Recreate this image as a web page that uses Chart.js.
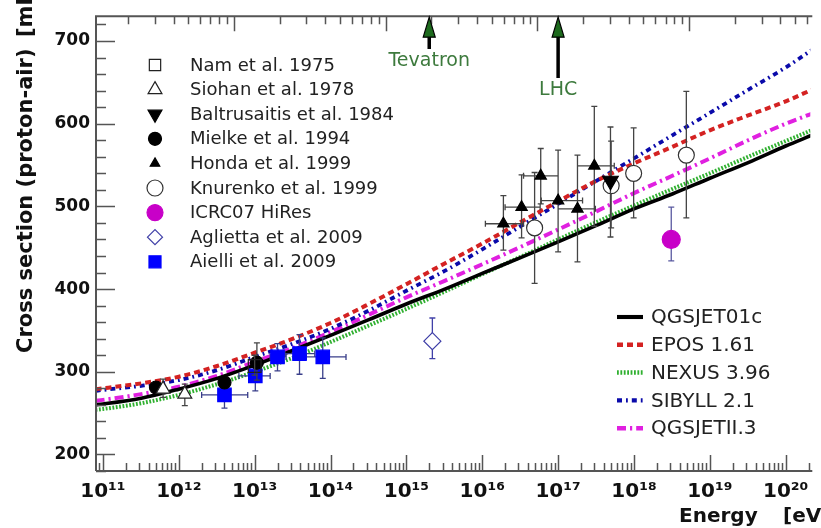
<!DOCTYPE html>
<html>
<head>
<meta charset="utf-8">
<script src="https://cdn.jsdelivr.net/npm/chart.js@4/dist/chart.umd.min.js"></script>
<style>
  html, body { margin: 0; padding: 0; background: #fff; }
  #wrap { width: 821px; height: 528px; }
</style>
</head>
<body>
<div id="wrap"><canvas id="xsec" width="821" height="528"></canvas></div>
<script>
// Model predictions: energy in eV, cross section in mb
const modelEnergy = [8e10, 1e11, 3.2e11, 1e12, 3.2e12, 1e13, 3.2e13, 1e14, 3.2e14, 1e15, 3.2e15,
                     1e16, 3.2e16, 1e17, 3.2e17, 1e18, 3.2e18, 1e19, 3.2e19, 1e20, 2.2e20];
const qgsjet01c = [260, 261, 268, 279, 292, 308, 326, 344, 363, 382, 400, 419, 438, 457, 477, 497, 515, 534, 553, 573, 586];
const epos161   = [279, 280, 286, 294, 307, 323, 340, 359, 382, 406, 431, 455, 481, 506, 531, 552, 572, 592, 610, 627, 641];
const nexus396  = [254, 255, 262, 272, 285, 300, 317, 336, 356, 376, 397, 418, 439, 460, 481, 501, 521, 540, 560, 579, 592];
const sibyll21  = [277, 278, 283, 290, 302, 318, 334, 352, 374, 398, 422, 448, 476, 503, 531, 558, 586, 613, 641, 668, 689];
const qgsjetII3 = [265, 266, 273, 282, 295, 312, 329, 348, 369, 390, 410, 430, 451, 472, 494, 516, 537, 558, 580, 600, 612];
const modelNames = ['QGSJET01c', 'EPOS 1.61', 'NEXUS 3.96', 'SIBYLL 2.1', 'QGSJETII.3'];

// Measurements: [energy, sigma, sigma low, sigma high, energy low, energy high]
const nam1975 = [[1.0e13, 307, 296, 320, null, null]];
const siohan1978 = [[6.2e11, 279, 269, 291, null, null], [1.2e12, 273, 259, 285, null, null]];
const baltrusaitis1984 = [[4.9e17, 531, 463, 596, null, null]];
const mielke1994 = [[5.0e11, 281, 275, 287, null, null], [4.0e12, 287, 281, 293, null, null], [1.07e13, 311, 290, 335, null, null]];
const honda1999 = [
  [1.9e16, 479, 447, 513, 1.1e16, 3.5e16],
  [3.3e16, 499, 462, 538, 2.0e16, 5.8e16],
  [5.9e16, 537, 503, 570, 3.5e16, 1.0e17],
  [1.0e17, 507, 445, 568, 6.0e16, 2.1e17],
  [1.8e17, 497, 433, 562, 1.0e17, 3.1e17],
  [3.0e17, 549, 476, 621, 1.8e17, 5.5e17]
];
const knurenko1999 = [[4.9e16, 474, 407, 541, null, null], [5.0e17, 525, 474, 579, null, null],
                      [9.9e17, 540, 486, 595, null, null], [4.9e18, 562, 486, 639, null, null]];
const hires2007 = [[3.1e18, 460, 434, 499, null, null]];
const aglietta2009 = [[2.2e15, 337, 316, 365, null, null]];
const aielli2009 = [
  [4.0e12, 272, 256, 288, 2.0e12, 8.1e12],
  [1.02e13, 295, 277, 316, 6.2e12, 1.6e13],
  [2.0e13, 318, 301, 334, 1.6e13, 2.6e13],
  [3.9e13, 322, 297, 345, 2.5e13, 6.2e13],
  [7.9e13, 318, 292, 341, 4.8e13, 1.6e14]
];
const expNames = ['Nam et al. 1975', 'Siohan et al. 1978', 'Baltrusaitis et al. 1984', 'Mielke et al. 1994',
                  'Honda et al. 1999', 'Knurenko et al. 1999', 'ICRC07 HiRes', 'Aglietta et al. 2009', 'Aielli et al. 2009'];

// Axes
const xTicks = [1e11, 1e12, 1e13, 1e14, 1e15, 1e16, 1e17, 1e18, 1e19, 1e20];
const xTickLabels = ['10¹¹', '10¹²', '10¹³', '10¹⁴', '10¹⁵', '10¹⁶', '10¹⁷', '10¹⁸', '10¹⁹', '10²⁰'];
const yTicks = [200, 300, 400, 500, 600, 700];
const xMin = 8.1e10, xMax = 2.11e20, yMin = 180, yMax = 730;

// Accelerator equivalent energies
const accelNames = ['Tevatron', 'LHC'];
const accelEnergy = [2e15, 1e17];

const FONT = "'DejaVu Sans', sans-serif";
const PROTON_MASS = 0.938; // GeV, top axis is sqrt(s)

function points(rows) {
  return rows.map(r => ({ x: r[0], y: r[1], yLo: r[2], yHi: r[3], xLo: r[4], xHi: r[5] }));
}
function curve(vals) {
  return modelEnergy.map((e, i) => ({ x: e, y: vals[i] }));
}

function expSet(label, rows, style) {
  return Object.assign({
    label: label,
    data: points(rows),
    showLine: false,
    pointBorderWidth: 1.2,
    pointHoverRadius: 0,
    errColor: '#444',
    isExp: true
  }, style);
}
function modelSet(label, vals, color, dash, width) {
  return {
    label: label,
    data: curve(vals),
    showLine: true,
    borderColor: color,
    borderWidth: width,
    borderDash: dash,
    pointRadius: 0,
    pointHoverRadius: 0,
    cubicInterpolationMode: 'monotone',
    isModel: true
  };
}

const datasets = [
  expSet(expNames[0], nam1975, { pointStyle: 'rect', pointRadius: 9, pointBackgroundColor: 'rgba(0,0,0,0)', pointBorderColor: '#222' }),
  expSet(expNames[1], siohan1978, { pointStyle: 'triangle', pointRadius: 8, pointBackgroundColor: '#fff', pointBorderColor: '#222' }),
  expSet(expNames[2], baltrusaitis1984, { pointStyle: 'triangle', pointRotation: 180, pointRadius: 9, pointBackgroundColor: '#000', pointBorderColor: '#000' }),
  expSet(expNames[3], mielke1994, { pointStyle: 'circle', pointRadius: 6.5, pointBackgroundColor: '#000', pointBorderColor: '#000' }),
  expSet(expNames[4], honda1999, { pointStyle: 'triangle', pointRadius: 6.5, pointBackgroundColor: '#000', pointBorderColor: '#000' }),
  expSet(expNames[5], knurenko1999, { pointStyle: 'circle', pointRadius: 8, pointBackgroundColor: '#fff', pointBorderColor: '#333' }),
  expSet(expNames[6], hires2007, { pointStyle: 'circle', pointRadius: 9, pointBackgroundColor: '#c800c8', pointBorderColor: '#c800c8', errColor: '#5a5aa0' }),
  expSet(expNames[7], aglietta2009, { pointStyle: 'rectRot', pointRadius: 8.5, pointBackgroundColor: '#fff', pointBorderColor: '#4040a8', errColor: '#4040a8' }),
  expSet(expNames[8], aielli2009, { pointStyle: 'rect', pointRadius: 9.5, pointBackgroundColor: '#0000ff', pointBorderColor: '#0000ff', errColor: '#3a3f8a' }),
  modelSet(modelNames[0], qgsjet01c, '#000000', [], 3.6),
  modelSet(modelNames[1], epos161, '#d42222', [6, 4], 4),
  modelSet(modelNames[2], nexus396, '#30b030', [1.8, 1.6], 4),
  modelSet(modelNames[3], sibyll21, '#0a0aaa', [5, 4, 1.8, 4], 3.8),
  modelSet(modelNames[4], qgsjetII3, '#e020e0', [9, 4, 2.2, 4], 4)
];

// error bars drawn under each marker set
const errorBars = {
  id: 'errorBars',
  beforeDatasetDraw(chart, args) {
    const ds = chart.data.datasets[args.index];
    if (!ds.isExp) return;
    const { ctx, scales: { x, y } } = chart;
    const cap = 3;
    ctx.save();
    ctx.strokeStyle = ds.errColor;
    ctx.lineWidth = 1.3;
    ctx.beginPath();
    ds.data.forEach(p => {
      const px = x.getPixelForValue(p.x), py = y.getPixelForValue(p.y);
      if (p.yLo != null) {
        const lo = y.getPixelForValue(p.yLo), hi = y.getPixelForValue(p.yHi);
        ctx.moveTo(px, lo); ctx.lineTo(px, hi);
        ctx.moveTo(px - cap, lo); ctx.lineTo(px + cap, lo);
        ctx.moveTo(px - cap, hi); ctx.lineTo(px + cap, hi);
      }
      if (p.xLo != null) {
        const l = x.getPixelForValue(p.xLo), r = x.getPixelForValue(p.xHi);
        ctx.moveTo(l, py); ctx.lineTo(r, py);
        ctx.moveTo(l, py - cap); ctx.lineTo(l, py + cap);
        ctx.moveTo(r, py - cap); ctx.lineTo(r, py + cap);
      }
    });
    ctx.stroke();
    ctx.restore();
  }
};

// frame with inside tick marks, ROOT style
const frame = {
  id: 'frame',
  afterDatasetsDraw(chart) {
    const { ctx, chartArea: a, scales: { x, x2, y } } = chart;
    ctx.save();
    ctx.strokeStyle = '#555';
    ctx.lineWidth = 2;
    ctx.beginPath();
    ctx.moveTo(a.left, a.bottom); ctx.lineTo(a.left, a.top); ctx.lineTo(a.right + 2, a.top);
    ctx.moveTo(a.left, a.bottom); ctx.lineTo(a.right + 2, a.bottom);
    ctx.stroke();
    ctx.lineWidth = 1.5;
    ctx.beginPath();
    for (let v = yMin; v <= yMax; v += 20) {
      const py = Math.round(y.getPixelForValue(v)) + 0.5;
      const len = v % 100 === 0 ? 19 : 10;
      ctx.moveTo(a.left, py); ctx.lineTo(a.left + len, py);
    }
    for (let e = 10; e <= 20; e++) {
      for (let m = 1; m <= 9; m++) {
        const v = m * Math.pow(10, e);
        if (v < xMin || v > xMax) continue;
        const px = Math.round(x.getPixelForValue(v)) + 0.5;
        ctx.moveTo(px, a.bottom); ctx.lineTo(px, a.bottom - (m === 1 ? 16 : 8));
      }
    }
    for (let e = 1; e <= 6; e++) {
      for (let m = 1; m <= 9; m++) {
        const v = m * Math.pow(10, e);
        if (v < x2.min || v > x2.max) continue;
        const px = Math.round(x2.getPixelForValue(v)) + 0.5;
        ctx.moveTo(px, a.top); ctx.lineTo(px, a.top + (m === 1 ? 15 : 8));
      }
    }
    ctx.stroke();
    ctx.restore();
  }
};

// titles, legends and accelerator arrows
const labels = {
  id: 'labels',
  afterDraw(chart) {
    const { ctx, chartArea: a, scales: { x } } = chart;
    ctx.save();

    // axis titles
    ctx.fillStyle = '#111';
    ctx.font = 'bold 21px ' + FONT;
    ctx.textBaseline = 'alphabetic';
    ctx.save();
    ctx.translate(32, 353);
    ctx.rotate(-Math.PI / 2);
    ctx.textAlign = 'left';
    ctx.fillText('Cross section (proton-air)', 0, 0);
    ctx.restore();
    ctx.save();
    ctx.translate(32, 37);
    ctx.rotate(-Math.PI / 2);
    ctx.textAlign = 'left';
    ctx.fillText('[mb]', 0, 0);
    ctx.restore();
    ctx.font = 'bold 20px ' + FONT;
    ctx.textAlign = 'left';
    ctx.fillText('Energy', 679, 522);
    ctx.fillText('[eV]', 783, 522);

    // experiment legend
    const drawPoint = Chart.helpers.drawPoint;
    ctx.font = '18px ' + FONT;
    ctx.textBaseline = 'middle';
    chart.data.datasets.filter(d => d.isExp).forEach((d, i) => {
      const cy = 65 + i * 24.6;
      ctx.fillStyle = d.pointBackgroundColor;
      ctx.strokeStyle = d.pointBorderColor;
      ctx.lineWidth = d.pointBorderWidth;
      const r = d.label.startsWith('Honda') ? 5.5 : (d.pointRadius > 8 ? d.pointRadius - 1 : d.pointRadius);
      drawPoint(ctx, { pointStyle: d.pointStyle, radius: r, rotation: d.pointRotation || 0, borderWidth: d.pointBorderWidth }, 155, cy);
      ctx.fillStyle = '#222';
      ctx.fillText(d.label, 190, cy + 1);
    });

    // model legend
    ctx.font = '20px ' + FONT;
    chart.data.datasets.filter(d => d.isModel).forEach((d, i) => {
      const cy = 317 + i * 27.8;
      ctx.save();
      ctx.strokeStyle = d.borderColor;
      ctx.lineWidth = d.borderWidth + 0.5;
      ctx.setLineDash(d.borderDash);
      ctx.beginPath();
      ctx.moveTo(617, cy); ctx.lineTo(643, cy);
      ctx.stroke();
      ctx.restore();
      ctx.fillStyle = '#222';
      ctx.fillText(d.label, 651, cy + 1);
    });

    // accelerator arrows
    const shaftEnd = [49, 78];
    const textBase = [66, 95];
    accelEnergy.forEach((e, i) => {
      const px = x.getPixelForValue(e);
      ctx.strokeStyle = '#000';
      ctx.lineWidth = 3.5;
      ctx.beginPath();
      ctx.moveTo(px, a.top + 18); ctx.lineTo(px, shaftEnd[i]);
      ctx.stroke();
      ctx.fillStyle = '#1d6a1d';
      ctx.lineWidth = 1.2;
      ctx.beginPath();
      ctx.moveTo(px, a.top + 1);
      ctx.lineTo(px - 6, a.top + 21);
      ctx.lineTo(px + 6, a.top + 21);
      ctx.closePath();
      ctx.fill();
      ctx.stroke();
      ctx.fillStyle = '#3d7a3d';
      ctx.font = '19px ' + FONT;
      ctx.textAlign = 'center';
      ctx.textBaseline = 'alphabetic';
      ctx.fillText(accelNames[i], px, textBase[i]);
    });
    ctx.restore();
  }
};

const ctx = document.getElementById('xsec').getContext('2d');
const chart = new Chart(ctx, {
  type: 'scatter',
  data: { datasets: datasets },
  options: {
    responsive: false,
    animation: false,
    events: [],
    layout: { padding: { top: 15, left: 0, right: 0, bottom: 0 } },
    plugins: { legend: { display: false }, tooltip: { enabled: false } },
    scales: {
      x: {
        type: 'logarithmic',
        position: 'bottom',
        min: xMin,
        max: xMax,
        grid: { display: false, drawTicks: false },
        border: { display: false },
        afterBuildTicks: s => { s.ticks = xTicks.map(v => ({ value: v })); },
        afterFit: s => { s.height = 57; },
        ticks: {
          autoSkip: false,
          maxRotation: 0,
          padding: 9,
          color: '#111',
          font: { family: FONT, size: 20, weight: 'bold' },
          callback: (v) => {
            const i = xTicks.indexOf(v);
            return i >= 0 ? xTickLabels[i] : '';
          }
        }
      },
      x2: {
        type: 'logarithmic',
        position: 'top',
        min: Math.sqrt(2 * PROTON_MASS * xMin / 1e9),
        max: Math.sqrt(2 * PROTON_MASS * xMax / 1e9),
        grid: { display: false, drawTicks: false },
        border: { display: false },
        ticks: { display: false },
        afterFit: s => { s.height = 0; }
      },
      y: {
        type: 'linear',
        min: yMin,
        max: yMax,
        grid: { display: false, drawTicks: false },
        border: { display: false },
        afterBuildTicks: s => { s.ticks = yTicks.map(v => ({ value: v })); },
        afterFit: s => { s.width = 96; },
        ticks: {
          padding: 6,
          color: '#111',
          font: { family: FONT, size: 17, weight: 'bold' }
        }
      }
    }
  },
  plugins: [errorBars, frame, labels]
});
</script>
</body>
</html>
